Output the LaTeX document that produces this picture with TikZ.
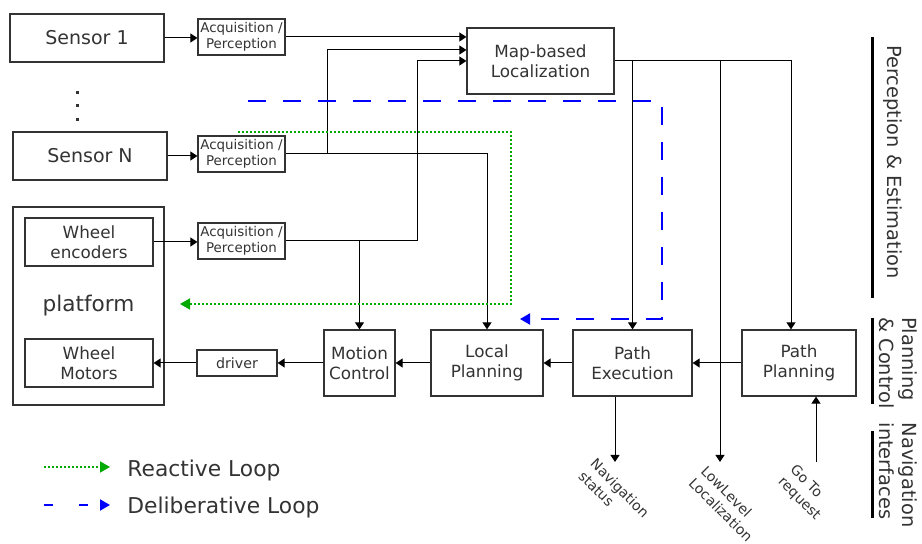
\documentclass[tikz,border=0pt]{standalone}
\usepackage{fontspec}
\setmainfont{DejaVu Sans}
\usetikzlibrary{arrows.meta}

\definecolor{schrift}{HTML}{333333}
\definecolor{gruen}{RGB}{0,170,0}

\tikzset{
	box/.style={draw=black!80, line width=0.6pt, text=schrift, align=center, inner sep=0pt, font=\fontsize{8.4}{10}\selectfont},
	sensorbox/.style={box, minimum width=77pt, minimum height=24pt, font=\fontsize{9.5}{11}\selectfont},
	acqbox/.style={box, minimum width=43.5pt, minimum height=18pt, font=\fontsize{6.7}{8}\selectfont},
	blockbox/.style={box, minimum height=33pt},
	pfeil/.style={-{Triangle[length=3.5pt,width=4.5pt]}, line width=0.5pt},
	reaktiv/.style={gruen, line width=0.9pt, dash pattern=on 1pt off 1pt, -{Triangle[length=5pt,width=5.5pt]}},
	deliberativ/.style={blue, line width=1pt, dash pattern=on 9pt off 8.5pt, -{Triangle[length=5pt,width=5.5pt]}},
	balken/.style={line width=1.5pt},
	seite/.style={text=schrift, rotate=-90, align=left, inner sep=0pt, font=\fontsize{9.7}{11.5}\selectfont},
	ausgang/.style={text=schrift, rotate=-45, align=left, inner sep=0pt, font=\fontsize{7}{8.5}\selectfont},
	legende/.style={text=schrift, anchor=base west, inner sep=0pt, font=\fontsize{10.9}{13}\selectfont},
}

\begin{document}
\begin{tikzpicture}[x=0.5pt,y=-0.5pt]
	\useasboundingbox (0,0) rectangle (922,544);

	% Sensoren
	\node[sensorbox] (sens1) at (87,38) {Sensor 1};
	\node[sensorbox] (sensN) at (90,156) {Sensor N};
	\foreach \p in {93,106,120} \fill[schrift] (76,\p-1.5) rectangle ++(3,3); % Punkte

	% Plattform
	\node[box, minimum width=75.5pt, minimum height=99pt, font=\fontsize{10.8}{13}\selectfont] (plat) at (88.5,306) {platform};
	\node[box, minimum width=64pt, minimum height=24pt] (wenc) at (89,242) {Wheel\\encoders};
	\node[box, minimum width=64pt, minimum height=24pt] (wmot) at (89,363) {Wheel\\Motors};

	% Erfassung
	\node[acqbox] (acqA) at (241.5,37) {Acquisition /\\Perception};
	\node[acqbox] (acqB) at (241.5,154) {Acquisition /\\Perception};
	\node[acqbox] (acqC) at (241.5,241) {Acquisition /\\Perception};

	% Bloecke
	\node[blockbox, minimum width=73.5pt] (map) at (540.5,61) {Map-based\\Localization};
	\node[box, minimum width=40pt, minimum height=13pt, font=\fontsize{7.1}{8.5}\selectfont] (driver) at (237,363) {driver};
	\node[blockbox, minimum width=35.5pt] (motion) at (359.5,363) {Motion\\Control};
	\node[blockbox, minimum width=56pt] (lokal) at (487,363) {Local\\Planning};
	\node[blockbox, minimum width=59.5pt] (pexec) at (632.5,363) {Path\\Execution};
	\node[blockbox, minimum width=57pt] (pplan) at (799,363) {Path\\Planning};

	% Sensor -> Erfassung
	\draw[pfeil] (sens1.east) -- (sens1.east -| acqA.west);
	\draw[pfeil] (sensN.east) -- (sensN.east -| acqB.west);
	\draw[pfeil] (wenc.east) -- (wenc.east -| acqC.west);

	% Erfassung -> Lokalisierung / Planung
	\coordinate (kB) at (327,154);
	\coordinate (kC) at (417,241);
	\draw[pfeil] (acqA.east) -- (acqA.east -| map.west);
	\draw[pfeil] (acqB.east) -- (kB) |- (map.west |- 0,50);
	\draw[pfeil] (kB) -| (lokal.north);
	\draw[pfeil] (acqC.east) -- (kC) |- (map.west);
	\draw[pfeil] (acqC.east -| motion.north) -- (motion.north);

	% Lokalisierung -> Pfad
	\coordinate (llok) at (720,462);
	\draw[pfeil] (map.east) -| (pplan.north -| 791,0);
	\draw[pfeil] (map.east -| pexec.north) -- (pexec.north);
	\draw[pfeil] (map.east -| llok) -- (llok);

	% Kette unten
	\draw[pfeil] (pplan) -- (pexec);
	\draw[pfeil] (pexec) -- (lokal);
	\draw[pfeil] (lokal) -- (motion);
	\draw[pfeil] (motion) -- (driver);
	\draw[pfeil] (driver) -- (wmot);

	% Schnittstellen
	\coordinate (navst) at (615,462);
	\coordinate (goto) at (816,462);
	\draw[pfeil] (pexec.south -| navst) -- (navst);
	\draw[pfeil] (goto) -- (pplan.south -| goto);
	\node[ausgang] (navstT) at (614,494) {Navigation\\status};
	\node[ausgang] (llokT) at (727,504) {LowLevel\\Localization};
	\node[ausgang] (gotoT) at (805,493) {Go To\\request};

	% Schleifen
	\coordinate (rA) at (238,132);
	\coordinate (rB) at (511,304);
	\coordinate (rE) at (180,304);
	\draw[reaktiv] (rA) -| (rB) -- (rE);
	\coordinate (dA) at (248,101);
	\coordinate (dB) at (662,319);
	\coordinate (dE) at (520,319);
	\draw[deliberativ] (dA) -| (dB) -- (dE);

	% Legende
	\coordinate (lgR) at (44,467);
	\coordinate (lgD) at (44,505);
	\draw[reaktiv] (lgR) -- ++(66,0);
	\draw[deliberativ, dash pattern=on 4.5pt off 13pt] (lgD) -- ++(66,0);
	\node[legende] (lgRT) at (127,477) {Reactive Loop};
	\node[legende] (lgDT) at (127,514) {Deliberative Loop};

	% Ebenen rechts
	\draw[balken] (872,37) -- (872,298);
	\draw[balken] (872,318) -- (872,404);
	\draw[balken] (872,431) -- (872,518);
	\node[seite] (ebA) at (893,162) {Perception \& Estimation};
	\node[seite] (ebB) at (898,363) {Planning\\\& Control};
	\node[seite] (ebC) at (898,475) {Navigation\\interfaces};
\end{tikzpicture}
\end{document}
